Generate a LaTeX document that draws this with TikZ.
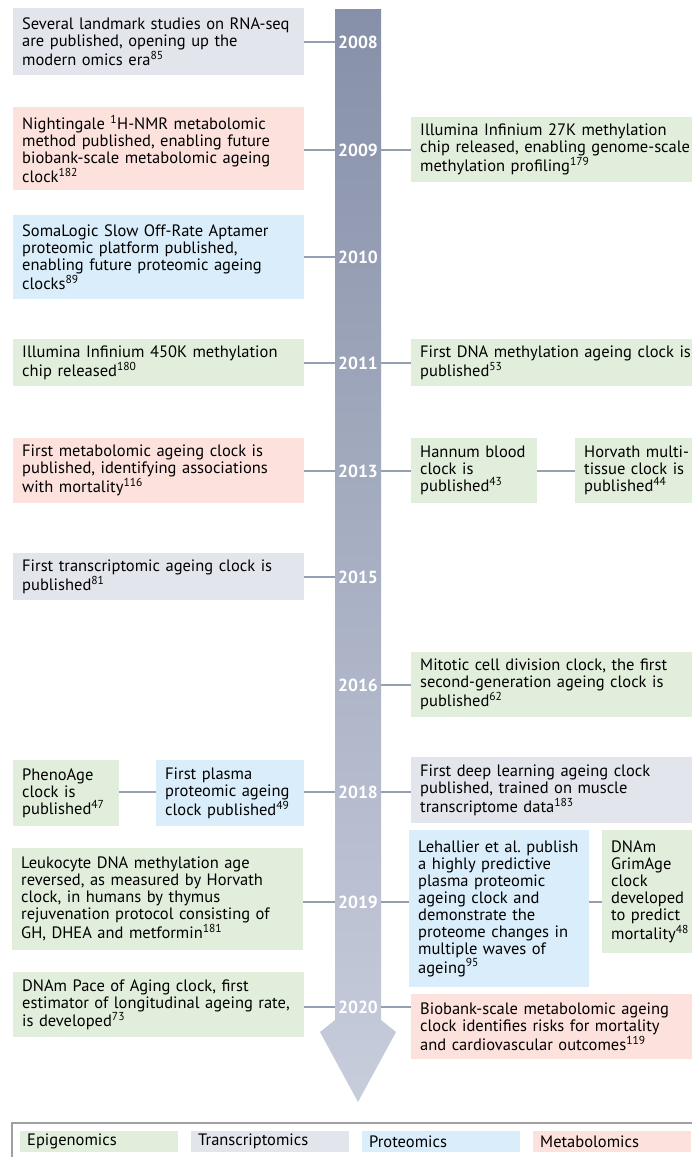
\documentclass[tikz,border=0pt]{standalone}
\usepackage{fontspec}
\setmainfont{PT Sans}
\definecolor{epicol}{RGB}{226,238,220}
\definecolor{tracol}{RGB}{227,229,236}
\definecolor{procol}{RGB}{218,237,250}
\definecolor{metcol}{RGB}{253,225,221}
\definecolor{linkcol}{RGB}{150,158,178}
\definecolor{bartop}{RGB}{134,144,168}
\definecolor{barbot}{RGB}{200,205,220}
\definecolor{framecol}{RGB}{160,160,160}
\begin{document}
\begin{tikzpicture}[x=1pt,y=-1pt,
  font=\fontsize{16.5}{17}\selectfont,
  box/.style={anchor=north west, inner xsep=9pt, inner ysep=0pt, align=left,
    execute at begin node={\rightskip=0pt plus 1em minus 30pt}},
  epi/.style={box, fill=epicol},
  tra/.style={box, fill=tracol},
  pro/.style={box, fill=procol},
  met/.style={box, fill=metcol},
  year/.style={font=\fontsize{17.5}{17}\selectfont\bfseries, text=white, minimum width=46pt, inner sep=0pt},
  link/.style={draw=linkcol, line width=1.3pt},
  key/.style={anchor=north west, inner xsep=7pt, inner ysep=0pt, minimum height=21pt, text width=144pt, align=left}]

\useasboundingbox (0,0) rectangle (692,1157);
\clip (0,0) rectangle (692,1157);

\shade[top color=bartop, bottom color=barbot] (335,9) -- (381,9) -- (381,1020) -- (396,1032) -- (358,1102) -- (320,1032) -- (335,1020) -- cycle;

\node[year] (y2008) at (358,42) {2008};
\node[year] (y2009) at (358,150) {2009};
\node[year] (y2010) at (358,257) {2010};
\node[year] (y2011) at (358,363) {2011};
\node[year] (y2013) at (358,471) {2013};
\node[year] (y2015) at (358,577) {2015};
\node[year] (y2016) at (358,685) {2016};
\node[year] (y2018) at (358,792) {2018};
\node[year] (y2019) at (358,902) {2019};
\node[year] (y2020) at (358,1007) {2020};

\node[tra, text width=273pt, minimum height=67pt] (l2008) at (13,8) {Several landmark studies on RNA-seq\\are published, opening up the\\modern omics era\textsuperscript{85}};
\node[met, text width=273pt, minimum height=83pt] (l2009) at (13,107) {Nightingale \textsuperscript{1}H-NMR metabolomic\\method published, enabling future\\biobank-scale metabolomic ageing\\clock\textsuperscript{182}};
\node[pro, text width=273pt, minimum height=84pt] (l2010) at (13,215) {SomaLogic Slow Off-Rate Aptamer\\proteomic platform published,\\enabling future proteomic ageing\\clocks\textsuperscript{89}};
\node[epi, text width=273pt, minimum height=47pt] (l2011) at (13,339) {Illumina Infinium 450K methylation\\chip released\textsuperscript{180}};
\node[met, text width=273pt, minimum height=65pt] (l2013) at (13,438) {First metabolomic ageing clock is\\published, identifying associations\\with mortality\textsuperscript{116}};
\node[tra, text width=273pt, minimum height=47pt] (l2015) at (13,553) {First transcriptomic ageing clock is\\published\textsuperscript{81}};
\node[epi, text width=88pt, minimum height=66pt] (l2018a) at (13,760) {PhenoAge\\clock is\\published\textsuperscript{47}};
\node[pro, text width=130pt, minimum height=66pt] (l2018b) at (156,760) {First plasma\\proteomic ageing\\clock published\textsuperscript{49}};
\node[epi, text width=273pt, minimum height=102pt] (l2019) at (12,848) {Leukocyte DNA methylation age\\reversed, as measured by Horvath\\clock, in humans by thymus\\rejuvenation protocol consisting of\\GH, DHEA and metformin\textsuperscript{181}};
\node[epi, text width=273pt, minimum height=65pt] (l2020) at (13,972) {DNAm Pace of Aging clock, first\\estimator of longitudinal ageing rate,\\is developed\textsuperscript{73}};

\node[epi, text width=300pt, minimum height=65pt] (r2009) at (411,117) {Illumina Infinium 27K methylation\\chip released, enabling genome-scale\\methylation profiling\textsuperscript{179}};
\node[epi, text width=300pt, minimum height=47pt] (r2011) at (411,339) {First DNA methylation ageing clock is\\published\textsuperscript{53}};
\node[epi, text width=108pt, minimum height=65pt] (r2013a) at (411,438) {Hannum blood\\clock is\\published\textsuperscript{43}};
\node[epi, text width=160pt, minimum height=65pt] (r2013b) at (575,438) {Horvath multi-\\tissue clock is\\published\textsuperscript{44}};
\node[epi, text width=300pt, minimum height=65pt] (r2016) at (411,652) {Mitotic cell division clock, the first\\second-generation ageing clock is\\published\textsuperscript{62}};
\node[tra, text width=300pt, minimum height=66pt] (r2018) at (411,757) {First deep learning ageing clock\\published, trained on muscle\\transcriptome data\textsuperscript{183}};
\node[pro, text width=162pt, minimum height=157pt] (r2019a) at (409,830) {Lehallier et al.\ publish\\a highly predictive\\plasma proteomic\\ageing clock and\\demonstrate the\\proteome changes in\\multiple waves of\\ageing\textsuperscript{95}};
\node[epi, text width=120pt, minimum height=123pt] (r2019b) at (602,830) {DNAm\\GrimAge\\clock\\developed\\to predict\\mortality\textsuperscript{48}};
\node[met, text width=300pt, minimum height=65pt] (r2020) at (411,994) {Biobank-scale metabolomic ageing\\clock identifies risks for mortality\\and cardiovascular outcomes\textsuperscript{119}};

\draw[link] (l2008.east |- y2008) -- (y2008.west);
\draw[link] (l2009.east |- y2009) -- (y2009.west);
\draw[link] (l2010.east |- y2010) -- (y2010.west);
\draw[link] (l2011.east |- y2011) -- (y2011.west);
\draw[link] (l2013.east |- y2013) -- (y2013.west);
\draw[link] (l2015.east |- y2015) -- (y2015.west);
\draw[link] (l2018b.east |- y2018) -- (y2018.west);
\draw[link] (l2018a.east |- y2018) -- (l2018b.west |- y2018);
\draw[link] (l2019.east |- y2019) -- (y2019.west);
\draw[link] (l2020.east |- y2020) -- (y2020.west);

\draw[link] (y2009.east) -- (r2009.west |- y2009);
\draw[link] (y2011.east) -- (r2011.west |- y2011);
\draw[link] (y2013.east) -- (r2013a.west |- y2013);
\draw[link] (r2013a.east |- y2013) -- (r2013b.west |- y2013);
\draw[link] (y2016.east) -- (r2016.west |- y2016);
\draw[link] (y2018.east) -- (r2018.west |- y2018);
\draw[link] (y2019.east) -- (r2019a.west |- y2019);
\draw[link] (r2019a.east |- y2019) -- (r2019b.west |- y2019);
\draw[link] (y2020.east) -- (r2020.west |- y2020);

\draw[draw=framecol, line width=1.3pt] (12,1123) rectangle (720,1200);
\node[key, fill=epicol] (kepi) at (20,1131) {Epigenomics};
\node[key, fill=tracol] (ktra) at (191,1131) {Transcriptomics};
\node[key, fill=procol] (kpro) at (362,1131) {Proteomics};
\node[key, fill=metcol] (kmet) at (533,1131) {Metabolomics};

\end{tikzpicture}
\end{document}
